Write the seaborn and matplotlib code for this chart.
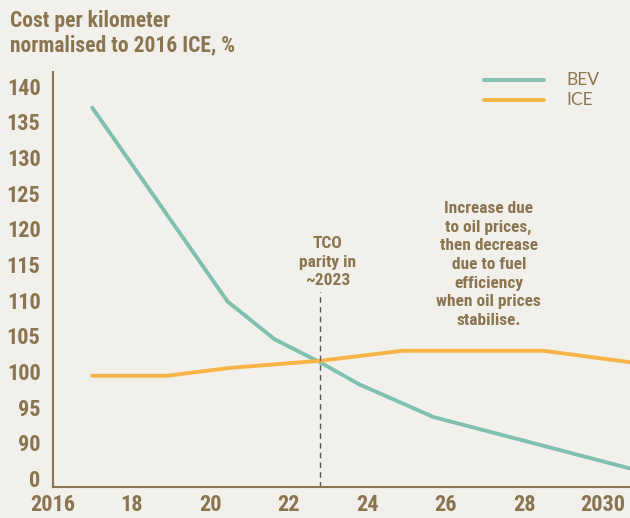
import matplotlib
matplotlib.use("Agg")
import matplotlib.pyplot as plt
import pandas as pd
import seaborn as sns

# Data
bev_years = [2017, 2020.45, 2021.65, 2022.8, 2023.8, 2025.7, 2030.7]
bev_cost = [137, 109.8, 104.5, 101.3, 98.2, 93.6, 86.4]
ice_years = [2017, 2018.9, 2020.5, 2022.8, 2024.9, 2028.5, 2030.7]
ice_cost = [99.4, 99.4, 100.5, 101.5, 102.9, 102.9, 101.3]

x_ticks = [2016, 2018, 2020, 2022, 2024, 2026, 2028, 2030]
x_labels = ['2016', '18', '20', '22', '24', '26', '28', '2030']
# broken axis: the lowest tick stands for 0
y_ticks = [85, 90, 95, 100, 105, 110, 115, 120, 125, 130, 135, 140]
y_labels = ['0', '90', '95', '100', '105', '110', '115', '120', '125', '130', '135', '140']
parity_year = 2022.8

df = pd.concat([
    pd.DataFrame({'year': bev_years, 'cost': bev_cost, 'type': 'BEV'}),
    pd.DataFrame({'year': ice_years, 'cost': ice_cost, 'type': 'ICE'}),
])

bg = '#f1f0eb'
brown = '#8a7550'
palette = {'BEV': '#7fc0b1', 'ICE': '#f6b446'}

sns.set_style('white')
plt.rcParams['font.family'] = ['Roboto Condensed', 'DejaVu Sans']

fig = plt.figure(figsize=(6.3, 5.18), dpi=100, facecolor=bg)
ax = fig.add_axes([53 / 630, 31 / 518, 577 / 630, 415 / 518])
ax.set_facecolor(bg)

sns.lineplot(data=df, x='year', y='cost', hue='type', palette=palette,
             linewidth=2.8, ax=ax, legend=False)

ax.set_xlim(2016, 2030.7)
ax.set_ylim(83.8, 142)
ax.set_xticks(x_ticks)
ax.set_xticklabels(x_labels)
ax.set_yticks(y_ticks)
ax.set_yticklabels(y_labels)
ax.tick_params(length=0, labelsize=16, labelcolor=brown)
ax.tick_params(axis='y', pad=9)
ax.tick_params(axis='x', pad=5)
for lab in ax.get_xticklabels() + ax.get_yticklabels():
    lab.set_fontweight('bold')
ax.set_xlabel('')
ax.set_ylabel('')

for s in ['top', 'right']:
    ax.spines[s].set_visible(False)
for s in ['left', 'bottom']:
    ax.spines[s].set_color(brown)
    ax.spines[s].set_linewidth(1.5)

# TCO parity marker
ax.plot([parity_year, parity_year], [83.8, 111.2], color='#555555',
        linestyle=(0, (4, 3)), linewidth=1)
ax.text(2023.0, 115.3, 'TCO\nparity in\n~2023', ha='center', va='center',
        color=brown, fontsize=12.5, fontweight='bold', linespacing=1.3)
ax.text(2027.1, 115.0, 'Increase due\nto oil prices,\nthen decrease\ndue to fuel\nefficiency\nwhen oil prices\nstabilise.',
        ha='center', va='center', color=brown, fontsize=12.5,
        fontweight='bold', linespacing=1.3)

# legend drawn by hand in the top right
for name, yy in [('BEV', 80), ('ICE', 100)]:
    fig.add_artist(plt.Line2D([484 / 630, 544 / 630], [1 - yy / 518, 1 - yy / 518],
                              color=palette[name], linewidth=2.8))
    fig.text(566 / 630, 1 - yy / 518, name, ha='left', va='center',
             color=brown, fontsize=12.5, family='Lato')

fig.text(10 / 630, 1 - 10 / 518, 'Cost per kilometer\nnormalised to 2016 ICE, %',
         ha='left', va='top', color=brown, fontsize=15.5, fontweight='bold',
         linespacing=1.15)

fig.savefig('out.png', dpi=100, facecolor=bg)
